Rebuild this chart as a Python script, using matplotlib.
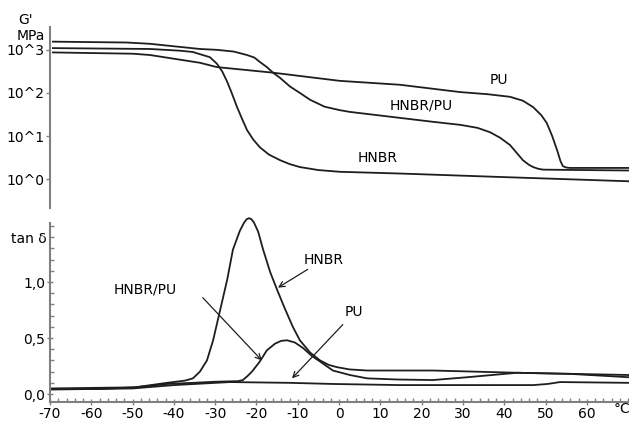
import matplotlib
matplotlib.use('Agg')
import matplotlib.pyplot as plt
import numpy as np

# storage modulus G' (log10 of MPa) vs temperature (°C)
t_hnbr_pu = [-69.3, -51.4, -45.8, -33.7, -29.6, -25.5, -22.3, -20.5, -19.2, -17.5, -16.0, -14.3,
             -11.9, -9.5, -7.0, -3.5, 0.2, 2.6, 22.7, 29.3, 33.5, 36.5, 39.0, 41.4, 43.0,
             44.5, 46.0, 47.0, 48.2, 49.4, 70.2]
g_hnbr_pu = [3.19, 3.17, 3.14, 3.02, 3.00, 2.96, 2.88, 2.82, 2.72, 2.60, 2.47, 2.35,
             2.15, 2.00, 1.84, 1.68, 1.60, 1.56, 1.33, 1.26, 1.19, 1.09, 0.96, 0.79, 0.61,
             0.44, 0.33, 0.28, 0.24, 0.22, 0.20]

t_pu = [-69.3, -49.9, -45.8, -33.7, -29.6, -16.0, 0.2, 14.7, 29.3, 36.0, 41.4, 44.5, 47.0,
        49.0, 50.3, 51.6, 52.8, 53.6, 54.2, 55.0, 55.9, 70.2]
g_pu = [2.94, 2.91, 2.88, 2.70, 2.60, 2.47, 2.28, 2.19, 2.02, 1.97, 1.91, 1.82, 1.67,
        1.48, 1.30, 1.00, 0.67, 0.42, 0.30, 0.27, 0.26, 0.26]

t_hnbr = [-69.3, -45.8, -38.5, -35.4, -33.7, -31.3, -29.6, -28.3, -27.1, -26.0, -24.7, -23.5,
          -22.3, -20.8, -19.2, -17.0, -14.3, -12.0, -9.5, -5.0, 0.2, 14.7, 39.0, 70.2]
g_hnbr = [3.04, 3.02, 2.98, 2.95, 2.90, 2.83, 2.68, 2.50, 2.26, 2.00, 1.67, 1.40,
          1.14, 0.92, 0.74, 0.57, 0.44, 0.35, 0.28, 0.21, 0.17, 0.13, 0.05, -0.05]

# loss factor tan delta
tt_hnbr = [-70.0, -57.9, -49.4, -41.7, -37.3, -35.4, -33.7, -32.0, -30.5, -28.8, -27.1,
           -25.7, -24.0, -23.0, -22.4, -21.8, -21.2, -20.6, -19.6, -18.4, -16.7, -15.0,
           -13.1, -11.2, -9.5, -7.0, -4.6, -2.5, -0.5, 2.5, 6.8, 22.7, 43.1, 70.2]
d_hnbr = [0.045, 0.045, 0.06, 0.10, 0.12, 0.14, 0.20, 0.30, 0.48, 0.75, 1.02,
          1.29, 1.46, 1.53, 1.56, 1.57, 1.56, 1.53, 1.45, 1.29, 1.09, 0.93,
          0.76, 0.60, 0.48, 0.37, 0.30, 0.26, 0.24, 0.22, 0.21, 0.21, 0.19, 0.17]

tt_hnbr_pu = [-70.0, -49.4, -41.7, -35.4, -30.0, -24.5, -23.3, -22.2, -21.1, -19.2, -17.5,
              -15.5, -14.0, -12.6, -10.7, -8.7, -6.6, -4.6, -1.5, 2.6, 6.8, 14.0, 22.7,
              31.0, 43.1, 55.9, 70.2]
d_hnbr_pu = [0.05, 0.06, 0.09, 0.10, 0.11, 0.115, 0.125, 0.16, 0.20, 0.29, 0.39,
             0.45, 0.475, 0.48, 0.46, 0.41, 0.34, 0.29, 0.21, 0.17, 0.14, 0.13, 0.125,
             0.15, 0.19, 0.18, 0.15]

tt_pu = [-70.0, -50.0, -40.0, -26.4, -11.9, -1.5, 14.7, 47.0, 50.5, 53.5, 70.2]
d_pu = [0.04, 0.05, 0.08, 0.107, 0.10, 0.09, 0.08, 0.08, 0.09, 0.107, 0.10]

x_ticks = list(range(-70, 61, 10))
g_ticks = [1, 10, 100, 1000]
g_labels = ['10^0', '10^1', '10^2', '10^3']
d_ticks = [0.0, 0.5, 1.0]
d_labels = ['0,0', '0,5', '1,0']

W, H = 629, 422
line_c = '#1e1e1e'
spine_c = '#808080'
fs = 10


def px(x0, y0, x1, y1):
    return [x0 / W, 1 - y1 / H, (x1 - x0) / W, (y1 - y0) / H]


fig = plt.figure(figsize=(W / 100, H / 100), dpi=100)

# upper panel: G'
ax1 = fig.add_axes(px(50, 27, 629, 208))
for t, g in [(t_hnbr_pu, g_hnbr_pu), (t_pu, g_pu), (t_hnbr, g_hnbr)]:
    ax1.plot(t, 10 ** np.array(g), color=line_c, lw=1.3, solid_joinstyle='round')
ax1.set_yscale('log')
ax1.set_xlim(-70, 70.2)
ax1.set_ylim(10 ** -0.67, 10 ** 3.53)
ax1.set_yticks(g_ticks)
ax1.set_yticklabels(g_labels, fontsize=fs)
ax1.yaxis.set_minor_locator(matplotlib.ticker.NullLocator())
ax1.tick_params(axis='y', direction='out', length=3, width=1, color=spine_c, pad=1)
ax1.set_xticks([])
for s in ['top', 'right', 'bottom']:
    ax1.spines[s].set_visible(False)
ax1.spines['left'].set_color(spine_c)
ax1.spines['left'].set_linewidth(1.5)
ax1.patch.set_alpha(0)

ax1.text(38.7, 10 ** 2.30, 'PU', fontsize=fs, ha='center', va='center')
ax1.text(19.8, 10 ** 1.72, 'HNBR/PU', fontsize=fs, ha='center', va='center')
ax1.text(9.4, 10 ** 0.49, 'HNBR', fontsize=fs, ha='center', va='center')

# lower panel: tan delta
ax2 = fig.add_axes(px(50, 223, 629, 402))
for t, d in [(tt_pu, d_pu), (tt_hnbr_pu, d_hnbr_pu), (tt_hnbr, d_hnbr)]:
    ax2.plot(t, d, color=line_c, lw=1.3, clip_on=False, solid_joinstyle='round')
ax2.set_xlim(-70, 70.2)
ax2.set_ylim(-0.071, 1.527)
ax2.set_xticks(x_ticks)
ax2.set_xticklabels([str(v) for v in x_ticks], fontsize=fs)
ax2.xaxis.set_minor_locator(matplotlib.ticker.MultipleLocator(2))
ax2.set_yticks(d_ticks)
ax2.set_yticklabels(d_labels, fontsize=fs)
ax2.yaxis.set_minor_locator(matplotlib.ticker.MultipleLocator(0.1))
ax2.tick_params(axis='both', which='major', direction='inout', length=5, width=1,
                color=spine_c, pad=1)
ax2.tick_params(axis='both', which='minor', direction='in', length=3, width=1, color=spine_c)
for s in ['top', 'right']:
    ax2.spines[s].set_visible(False)
for s in ['left', 'bottom']:
    ax2.spines[s].set_color(spine_c)
    ax2.spines[s].set_linewidth(1.5)
ax2.patch.set_alpha(0)

arrow = dict(arrowstyle='->', color=line_c, lw=0.9, shrinkA=0, shrinkB=0)
ax2.annotate('HNBR', xy=(-14.8, 0.95), xytext=(-8.6, 1.20), fontsize=fs,
             ha='left', va='center', arrowprops=arrow)
ax2.annotate('', xy=(-18.7, 0.30), xytext=(-33.0, 0.86), arrowprops=arrow)
ax2.text(-47.0, 0.93, 'HNBR/PU', fontsize=fs, ha='center', va='center')
ax2.annotate('', xy=(-11.4, 0.14), xytext=(0.9, 0.62), arrowprops=arrow)
ax2.text(3.6, 0.73, 'PU', fontsize=fs, ha='center', va='center')
ax2.text(68.5, -0.071, '°C', fontsize=fs, ha='center', va='top',
         transform=ax2.transData, clip_on=False)

# axis captions
fig.text(26 / W, 1 - 20 / H, "G'", fontsize=fs, ha='center', va='center')
fig.text(31 / W, 1 - 36 / H, 'MPa', fontsize=fs, ha='center', va='center')
fig.text(29 / W, 1 - 239 / H, 'tan δ', fontsize=fs, ha='center', va='center')

fig.savefig('out.png', dpi=100)
